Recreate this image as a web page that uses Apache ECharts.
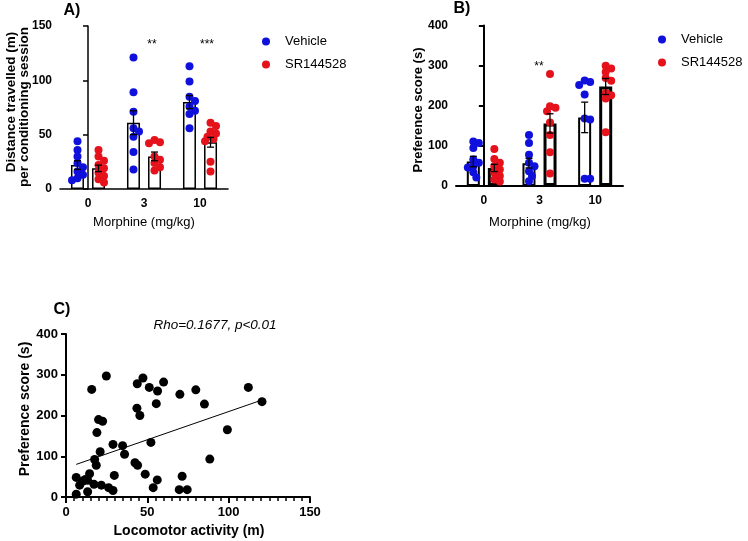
<!DOCTYPE html>
<html>
<head>
<meta charset="utf-8">
<script src="https://cdn.jsdelivr.net/npm/echarts@6/dist/echarts.min.js"></script>
<style>
    html, body { margin: 0; padding: 0; background: #fff; }
    #main { width: 748px; height: 541px; }
</style>
</head>
<body>
<div id="main"></div>
<script>
    // doses on the x axis of panels A and B
    var doses = ['0', '3', '10'];

    // A) distance travelled per conditioning session (m)
    var distVehMean = [22, 61, 80];
    var distVehSem = [4, 11, 6];
    var distSrMean = [19, 30, 43];
    var distSrSem = [3, 4, 4.5];
    var distVehPts = [
        [44, 36, 30, 24, 20, 16, 13, 10, 8],
        [121, 89, 71, 56, 53, 48, 34, 18],
        [113, 99, 85, 81, 76, 72, 69, 56]
    ];
    var distSrPts = [
        [36, 30, 26, 22, 19, 15, 12, 9, 6],
        [45, 43, 42, 30, 27, 24, 20, 17],
        [61, 58, 53, 51, 48, 46, 44, 25, 16]
    ];

    // B) preference score (s)
    var prefVehMean = [61, 57, 171];
    var prefVehSem = [13, 12, 38];
    var prefSrMean = [45, 156, 248];
    var prefSrSem = [9, 24, 20];
    var prefVehPts = [
        [111, 107, 95, 66, 58, 49, 46, 34, 21],
        [127, 107, 78, 58, 49, 37, 25, 12],
        [263, 259, 252, 228, 168, 166, 18, 18]
    ];
    var prefSrPts = [
        [92, 67, 58, 49, 41, 33, 25, 16, 11],
        [279, 199, 195, 186, 158, 127, 84, 31],
        [300, 293, 284, 269, 262, 232, 226, 218, 134]
    ];

    // C) locomotor activity vs preference score
    var locomotor = [6.3, 6.3, 8.4, 10.4, 11.9, 13.3, 14.5, 13.3, 15.8, 17.2, 17.6, 18.6, 19, 20, 21, 21.7,
        22.5, 24.8, 26.2, 28.9, 28.9, 29.7, 34.8, 36, 42.4, 44, 43.8, 43.6, 45.4, 47.3, 48.7, 51.2, 52.2,
        53.6, 55.5, 56.3, 56.1, 60, 70, 69.6, 71.4, 74.5, 79.8, 85.1, 88.4, 99.2, 112.1, 120.5];
    var preference = [48, 7, 29, 39, 43, 13, 57, 41, 264, 31, 92, 78, 158, 190, 111, 29,
        186, 297, 23, 16, 129, 53, 126, 105, 84, 78, 278, 218, 200, 292, 56, 269, 134,
        23, 229, 260, 42, 282, 252, 18, 51, 18, 263, 228, 93, 165, 269, 234];
    var fitX = [6.3, 120.5];
    var fitY = [80, 238];

    var blue = '#1010dc';
    var red = '#e5121c';
    var font = 'Liberation Sans, Arial, sans-serif';

    // grid geometry (px)
    var gA = {left: 60, top: 26, width: 168, height: 163};
    var gB = {left: 456, top: 25.5, width: 167, height: 160.5};
    var gC = {left: 66, top: 334, width: 244, height: 163};

    // tight bee-swarm: nudge dots sideways a little when they pile up
    function swarm(vals, pxPerUnit) {
        var placed = [], out = [];
        var steps = [0, 3, -3, 5.5, -5.5];
        vals.forEach(function (v) {
            var y = v * pxPerUnit, best = 0, bestD = -1;
            for (var i = 0; i < steps.length; i++) {
                var x = steps[i];
                var dmin = placed.reduce(function (acc, p) {
                    return Math.min(acc, Math.hypot(p[0] - x, p[1] - y));
                }, 99);
                if (dmin >= 5.5) { best = x; bestD = dmin; break; }
                if (dmin > bestD) { best = x; bestD = dmin; }
            }
            placed.push([best, y]);
            out.push(best);
        });
        return out;
    }

    function dots(groups, g, yMax, side) {
        var unit = g.width / 3, res = [];
        groups.forEach(function (vals, i) {
            var xs = swarm(vals, g.height / yMax);
            vals.forEach(function (v, j) {
                res.push([i + (side * 10.5 + xs[j]) / unit, v]);
            });
        });
        return res;
    }

    function errData(mean, sem, g, side) {
        var unit = g.width / 3;
        return mean.map(function (m, i) {
            return [i + side * 10.5 / unit, m, sem[i]];
        });
    }

    function errRender(params, api) {
        var x = api.value(0), m = api.value(1), s = api.value(2);
        var top = api.coord([x, m + s]);
        var bot = api.coord([x, m - s]);
        var st = {stroke: '#000', lineWidth: 1.3};
        return {
            type: 'group',
            children: [
                {type: 'line', shape: {x1: top[0], y1: top[1], x2: bot[0], y2: bot[1]}, style: st},
                {type: 'line', shape: {x1: top[0] - 3.5, y1: top[1], x2: top[0] + 3.5, y2: top[1]}, style: st},
                {type: 'line', shape: {x1: bot[0] - 3.5, y1: bot[1], x2: bot[0] + 3.5, y2: bot[1]}, style: st}
            ]
        };
    }

    function catAxis(grid, w) {
        return {
            type: 'category', gridIndex: grid, data: doses,
            axisLine: {lineStyle: {color: '#000', width: w}},
            axisTick: {alignWithLabel: true, length: 5, lineStyle: {width: w}},
            axisLabel: {color: '#000', fontWeight: 'bold', fontSize: 12, fontFamily: font, margin: 9}
        };
    }

    function hiddenAxis(grid) {
        return {type: 'value', gridIndex: grid, min: -0.5, max: 2.5, show: false};
    }

    function valAxis(grid, max, interval, w, fs) {
        return {
            type: 'value', gridIndex: grid, min: 0, max: max, interval: interval,
            splitLine: {show: false},
            axisLine: {show: true, lineStyle: {color: '#000', width: w}},
            axisTick: {show: true, length: 5, lineStyle: {width: w}},
            axisLabel: {color: '#000', fontWeight: 'bold', fontSize: fs, fontFamily: font, margin: 8}
        };
    }

    function barSeries(name, xi, yi, data, bw) {
        return {
            name: name, type: 'bar', xAxisIndex: xi, yAxisIndex: yi, data: data,
            barWidth: 13, barGap: '62%', z: 1,
            itemStyle: {color: '#fff', borderColor: '#000', borderWidth: bw}
        };
    }

    function dotSeries(name, xi, yi, data, color) {
        return {
            name: name, type: 'scatter', xAxisIndex: xi, yAxisIndex: yi, data: data,
            symbolSize: 8, z: 3, itemStyle: {color: color, opacity: 1}
        };
    }

    function errSeries(xi, yi, data) {
        return {
            type: 'custom', xAxisIndex: xi, yAxisIndex: yi, data: data,
            renderItem: errRender, z: 4, silent: true
        };
    }

    function txt(x, y, s, size, weight, extra) {
        var o = {
            type: 'text', x: x, y: y,
            style: {text: s, fill: '#000', font: weight + ' ' + size + 'px ' + font,
                align: 'center', verticalAlign: 'middle'}
        };
        if (extra) {
            for (var k in extra) o[k] = extra[k];
        }
        return o;
    }

    var chart = echarts.init(document.getElementById('main'));

    var option = {
        backgroundColor: '#fff',
        animation: false,
        grid: [gA, gB, gC],
        xAxis: [
            catAxis(0, 1.5),
            hiddenAxis(0),
            catAxis(1, 2),
            hiddenAxis(1),
            {
                type: 'value', gridIndex: 2, min: 0, max: 150, interval: 50,
                splitLine: {show: false},
                axisLine: {lineStyle: {color: '#000', width: 2}},
                axisTick: {length: 6, lineStyle: {width: 2}},
                minorTick: {show: true, splitNumber: 10, length: 4, lineStyle: {color: '#000', width: 1.5}},
                axisLabel: {color: '#000', fontWeight: 'bold', fontSize: 13, fontFamily: font, margin: 9}
            }
        ],
        yAxis: [
            valAxis(0, 150, 50, 1.5, 12),
            valAxis(1, 400, 100, 2, 12),
            valAxis(2, 400, 100, 2, 13)
        ],
        legend: [
            {
                data: ['Vehicle', 'SR144528'], orient: 'vertical', left: 257, top: 29,
                icon: 'circle', itemWidth: 28, itemHeight: 8, itemGap: 8,
                textStyle: {fontSize: 13, color: '#000', fontFamily: font, lineHeight: 15}
            },
            {
                data: ['Vehicle', 'SR144528'], orient: 'vertical', left: 653, top: 27,
                icon: 'circle', itemWidth: 28, itemHeight: 8, itemGap: 8,
                textStyle: {fontSize: 13, color: '#000', fontFamily: font, lineHeight: 15}
            }
        ],
        series: [
            barSeries('vehBarA', 0, 0, distVehMean, 1.5),
            barSeries('srBarA', 0, 0, distSrMean, 1.5),
            dotSeries('Vehicle', 1, 0, dots(distVehPts, gA, 150, -1), blue),
            dotSeries('SR144528', 1, 0, dots(distSrPts, gA, 150, 1), red),
            errSeries(1, 0, errData(distVehMean, distVehSem, gA, -1)),
            errSeries(1, 0, errData(distSrMean, distSrSem, gA, 1)),

            barSeries('vehBarB', 2, 1, prefVehMean, 2),
            barSeries('srBarB', 2, 1, prefSrMean, 3),
            dotSeries('Vehicle', 3, 1, dots(prefVehPts, gB, 400, -1), blue),
            dotSeries('SR144528', 3, 1, dots(prefSrPts, gB, 400, 1), red),
            errSeries(3, 1, errData(prefVehMean, prefVehSem, gB, -1)),
            errSeries(3, 1, errData(prefSrMean, prefSrSem, gB, 1)),

            {
                type: 'scatter', xAxisIndex: 4, yAxisIndex: 2, symbolSize: 9,
                itemStyle: {color: '#000', opacity: 1},
                data: locomotor.map(function (x, i) { return [x, preference[i]]; })
            },
            {
                type: 'line', xAxisIndex: 4, yAxisIndex: 2, showSymbol: false,
                lineStyle: {color: '#000', width: 1},
                data: fitX.map(function (x, i) { return [x, fitY[i]]; })
            }
        ],
        graphic: [
            txt(72, 11, 'A)', 16, 'bold'),
            txt(462, 9, 'B)', 16, 'bold'),
            txt(62, 310, 'C)', 16, 'bold'),
            txt(11, 102, 'Distance travelled (m)', 13.5, 'bold', {rotation: Math.PI / 2}),
            txt(24, 107, 'per conditioning session', 13.5, 'bold', {rotation: Math.PI / 2}),
            txt(418, 110, 'Preference score (s)', 13, 'bold', {rotation: Math.PI / 2}),
            txt(25, 409, 'Preference score (s)', 14, 'bold', {rotation: Math.PI / 2}),
            txt(144, 222, 'Morphine (mg/kg)', 13, 'normal'),
            txt(540, 222, 'Morphine (mg/kg)', 13, 'normal'),
            txt(189, 531, 'Locomotor activity (m)', 14, 'bold'),
            txt(215, 325, 'Rho=0.1677, p<0.01', 13.5, 'italic'),
            txt(152, 45, '**', 12, 'normal'),
            txt(207, 45, '***', 12, 'normal'),
            txt(539, 67, '**', 12, 'normal')
        ]
    };

    chart.setOption(option);
</script>
</body>
</html>
